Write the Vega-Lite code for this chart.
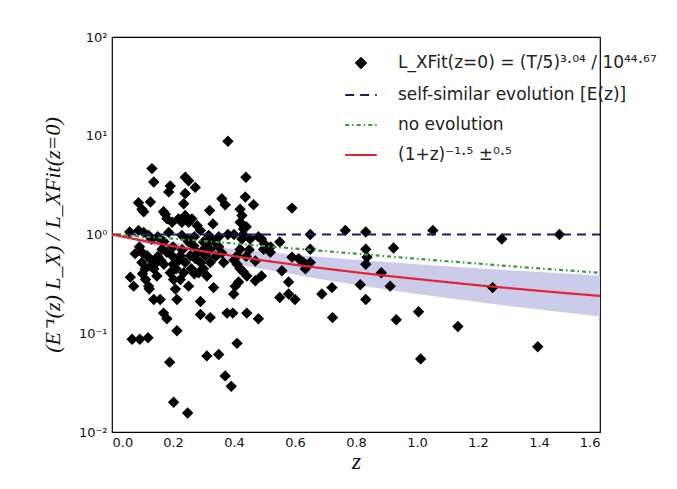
{
  "$schema": "https://vega.github.io/schema/vega-lite/v6.json",
  "width": 488,
  "height": 395,
  "autosize": "none",
  "padding": {"left": 112, "top": 37, "right": 77, "bottom": 57},
  "background": "white",
  "config": {
    "view": {"stroke": "#000000", "strokeWidth": 1.2},
    "font": "DejaVu Sans",
    "axis": {"grid": false, "domain": false, "labelFont": "DejaVu Sans", "labelFontSize": 13, "labelColor": "#111111", "tickColor": "#111111", "tickWidth": 1}
  },
  "datasets": {
    "pts": [
      {"z":0.058,"y":1.06},{"z":0.087,"y":1.1},{"z":0.104,"y":1.05},{"z":0.12,"y":0.98},
      {"z":0.066,"y":0.087},{"z":0.091,"y":0.087},{"z":0.118,"y":0.09},
      {"z":0.06,"y":0.37},{"z":0.071,"y":0.30},{"z":0.076,"y":0.64},
      {"z":0.087,"y":2.1},{"z":0.098,"y":1.8},{"z":0.131,"y":4.65},{"z":0.137,"y":3.4},{"z":0.126,"y":2.13},{"z":0.104,"y":1.7},
      {"z":0.098,"y":0.52},{"z":0.109,"y":0.45},{"z":0.115,"y":0.61},{"z":0.126,"y":0.48},{"z":0.137,"y":0.45},{"z":0.147,"y":0.38},{"z":0.12,"y":0.30},{"z":0.122,"y":0.28},{"z":0.137,"y":0.22},{"z":0.158,"y":0.22},{"z":0.169,"y":0.16},{"z":0.18,"y":0.14},
      {"z":0.186,"y":2.7},{"z":0.191,"y":3.1},{"z":0.169,"y":1.7},{"z":0.18,"y":1.44},{"z":0.197,"y":1.33},{"z":0.175,"y":1.6},{"z":0.186,"y":1.05},{"z":0.164,"y":0.71},{"z":0.18,"y":0.66},{"z":0.197,"y":0.61},{"z":0.191,"y":0.41},{"z":0.202,"y":0.35},{"z":0.208,"y":0.28},{"z":0.213,"y":0.22},{"z":0.213,"y":0.106},{"z":0.189,"y":0.051},{"z":0.202,"y":0.020},{"z":0.248,"y":0.0156},
      {"z":0.24,"y":3.8},{"z":0.251,"y":3.5},{"z":0.273,"y":3.0},{"z":0.24,"y":2.6},{"z":0.235,"y":2.05},{"z":0.218,"y":1.44},{"z":0.229,"y":1.33},{"z":0.24,"y":1.56},{"z":0.251,"y":1.33},{"z":0.262,"y":1.44},{"z":0.279,"y":1.23},{"z":0.29,"y":1.1},{"z":0.229,"y":0.98},{"z":0.246,"y":0.9},{"z":0.268,"y":0.77},{"z":0.224,"y":0.61},{"z":0.24,"y":0.52},{"z":0.257,"y":0.61},{"z":0.273,"y":0.57},{"z":0.235,"y":0.41},{"z":0.224,"y":0.35},{"z":0.251,"y":0.30},{"z":0.284,"y":0.41},{"z":0.29,"y":0.52},{"z":0.29,"y":0.21},{"z":0.29,"y":0.155},{"z":0.322,"y":0.144},{"z":0.311,"y":0.059},{"z":0.35,"y":0.061},{"z":0.371,"y":0.037},{"z":0.391,"y":0.029},{"z":0.41,"y":0.079},{"z":0.38,"y":8.8},
      {"z":0.32,"y":1.75},{"z":0.331,"y":1.28},{"z":0.317,"y":0.98},{"z":0.3,"y":0.84},{"z":0.322,"y":0.71},{"z":0.338,"y":0.84},{"z":0.306,"y":0.61},{"z":0.322,"y":0.52},{"z":0.3,"y":0.45},{"z":0.311,"y":0.38},{"z":0.333,"y":0.29},{"z":0.36,"y":2.3},{"z":0.371,"y":2.0},{"z":0.366,"y":0.52},{"z":0.377,"y":0.16},{"z":0.396,"y":0.16},{"z":0.404,"y":0.30},{"z":0.399,"y":0.25},{"z":0.415,"y":0.33},{"z":0.42,"y":0.45},{"z":0.41,"y":0.61},{"z":0.42,"y":0.71},{"z":0.426,"y":0.9},{"z":0.431,"y":1.14},{"z":0.42,"y":1.33},{"z":0.426,"y":1.56},{"z":0.42,"y":1.8},{"z":0.437,"y":2.4},{"z":0.439,"y":3.8},{"z":0.464,"y":2.0},{"z":0.442,"y":0.16},{"z":0.48,"y":0.14},{"z":0.442,"y":0.38},{"z":0.47,"y":0.54},{"z":0.453,"y":0.9},{"z":0.49,"y":0.9},{"z":0.497,"y":0.71},{"z":0.519,"y":0.66},{"z":0.47,"y":0.34},{"z":0.49,"y":0.38},
      {"z":0.55,"y":0.84},{"z":0.557,"y":0.43},{"z":0.579,"y":0.33},{"z":0.59,"y":1.85},{"z":0.59,"y":0.59},{"z":0.612,"y":0.57},{"z":0.628,"y":0.52},{"z":0.65,"y":0.52},{"z":0.65,"y":0.71},{"z":0.65,"y":1.0},{"z":0.55,"y":0.23},{"z":0.579,"y":0.25},{"z":0.6,"y":0.22},{"z":0.634,"y":0.45},{"z":0.688,"y":0.25},{"z":0.721,"y":0.29},{"z":0.723,"y":0.144},{"z":0.765,"y":1.1},{"z":0.832,"y":1.06},{"z":0.832,"y":0.71},{"z":0.836,"y":0.59},{"z":0.832,"y":0.50},{"z":0.814,"y":0.31},{"z":0.832,"y":0.22},{"z":0.883,"y":0.41},{"z":0.923,"y":0.73},{"z":0.912,"y":0.30},{"z":0.932,"y":0.137},{"z":1.005,"y":0.165},{"z":1.012,"y":0.055},{"z":1.052,"y":1.1},{"z":1.134,"y":0.117},{"z":1.248,"y":0.29},{"z":1.278,"y":0.9},{"z":1.396,"y":0.073},{"z":1.467,"y":1.0},
      {"z":0.1,"y":0.4},{"z":0.11,"y":0.35},{"z":0.13,"y":0.55},{"z":0.14,"y":0.5},{"z":0.15,"y":0.6},{"z":0.16,"y":0.55},{"z":0.17,"y":0.5},{"z":0.2,"y":0.5},{"z":0.21,"y":0.45},{"z":0.22,"y":0.55},{"z":0.23,"y":0.7},{"z":0.26,"y":0.45},{"z":0.27,"y":0.4},{"z":0.28,"y":0.65},{"z":0.3,"y":0.7},{"z":0.31,"y":0.8},{"z":0.34,"y":0.6},{"z":0.35,"y":0.75},{"z":0.36,"y":0.65},{"z":0.4,"y":0.55},{"z":0.41,"y":0.5},{"z":0.43,"y":0.42},{"z":0.44,"y":0.6},{"z":0.45,"y":0.7},{"z":0.2,"y":0.75},{"z":0.25,"y":0.85},{"z":0.27,"y":0.95},{"z":0.32,"y":0.9},{"z":0.35,"y":0.95},{"z":0.38,"y":1.0},{"z":0.4,"y":1.0},{"z":0.13,"y":0.9},{"z":0.15,"y":0.95},{"z":0.17,"y":0.85},{"z":0.09,"y":0.75},{"z":0.1,"y":0.65},{"z":0.43,"y":1.0},{"z":0.44,"y":1.2},{"z":0.5,"y":0.8},{"z":0.52,"y":0.75},{"z":0.48,"y":0.95}
    ],
    "band": [
      {"z":0.0,"lo":1.0,"hi":1.0},{"z":0.1,"lo":0.826,"hi":0.909},{"z":0.2,"lo":0.694,"hi":0.833},{"z":0.3,"lo":0.592,"hi":0.769},{"z":0.4,"lo":0.510,"hi":0.714},{"z":0.5,"lo":0.444,"hi":0.667},{"z":0.6,"lo":0.391,"hi":0.625},{"z":0.7,"lo":0.346,"hi":0.588},{"z":0.8,"lo":0.309,"hi":0.556},{"z":0.9,"lo":0.277,"hi":0.526},{"z":1.0,"lo":0.25,"hi":0.5},{"z":1.1,"lo":0.227,"hi":0.476},{"z":1.2,"lo":0.207,"hi":0.455},{"z":1.3,"lo":0.189,"hi":0.435},{"z":1.4,"lo":0.174,"hi":0.417},{"z":1.5,"lo":0.16,"hi":0.4},{"z":1.6,"lo":0.148,"hi":0.385}
    ],
    "curves": [
      {"s":"L_XFit(z=0) = (T/5)³·⁰⁴ / 10⁴⁴·⁶⁷","z":null,"v":null},
      {"s":"self-similar evolution [E(z)]","z":0.0,"v":1.0},{"s":"self-similar evolution [E(z)]","z":1.6,"v":1.0},
      {"s":"no evolution","z":0.0,"v":1.0},{"s":"no evolution","z":0.1,"v":0.954},{"s":"no evolution","z":0.2,"v":0.906},{"s":"no evolution","z":0.3,"v":0.858},{"s":"no evolution","z":0.4,"v":0.81},{"s":"no evolution","z":0.5,"v":0.764},{"s":"no evolution","z":0.6,"v":0.72},{"s":"no evolution","z":0.7,"v":0.678},{"s":"no evolution","z":0.8,"v":0.639},{"s":"no evolution","z":0.9,"v":0.602},{"s":"no evolution","z":1.0,"v":0.568},{"s":"no evolution","z":1.1,"v":0.536},{"s":"no evolution","z":1.2,"v":0.507},{"s":"no evolution","z":1.3,"v":0.479},{"s":"no evolution","z":1.4,"v":0.454},{"s":"no evolution","z":1.5,"v":0.431},{"s":"no evolution","z":1.6,"v":0.409},
      {"s":"(1+z)⁻¹·⁵ ±⁰·⁵","z":0.0,"v":1.0},{"s":"(1+z)⁻¹·⁵ ±⁰·⁵","z":0.1,"v":0.867},{"s":"(1+z)⁻¹·⁵ ±⁰·⁵","z":0.2,"v":0.761},{"s":"(1+z)⁻¹·⁵ ±⁰·⁵","z":0.3,"v":0.675},{"s":"(1+z)⁻¹·⁵ ±⁰·⁵","z":0.4,"v":0.604},{"s":"(1+z)⁻¹·⁵ ±⁰·⁵","z":0.5,"v":0.544},{"s":"(1+z)⁻¹·⁵ ±⁰·⁵","z":0.6,"v":0.494},{"s":"(1+z)⁻¹·⁵ ±⁰·⁵","z":0.7,"v":0.451},{"s":"(1+z)⁻¹·⁵ ±⁰·⁵","z":0.8,"v":0.414},{"s":"(1+z)⁻¹·⁵ ±⁰·⁵","z":0.9,"v":0.382},{"s":"(1+z)⁻¹·⁵ ±⁰·⁵","z":1.0,"v":0.354},{"s":"(1+z)⁻¹·⁵ ±⁰·⁵","z":1.1,"v":0.329},{"s":"(1+z)⁻¹·⁵ ±⁰·⁵","z":1.2,"v":0.306},{"s":"(1+z)⁻¹·⁵ ±⁰·⁵","z":1.3,"v":0.287},{"s":"(1+z)⁻¹·⁵ ±⁰·⁵","z":1.4,"v":0.269},{"s":"(1+z)⁻¹·⁵ ±⁰·⁵","z":1.5,"v":0.253},{"s":"(1+z)⁻¹·⁵ ±⁰·⁵","z":1.6,"v":0.239}
    ]
  },
  "layer": [
    {
      "data": {"name": "band"},
      "mark": {"type": "area", "color": "#cbcbea", "opacity": 1},
      "encoding": {
        "x": {"field": "z", "type": "quantitative",
          "scale": {"domain": [0, 1.6], "nice": false, "zero": false},
          "axis": {"orient": "bottom", "values": [0, 0.2, 0.4, 0.6, 0.8, 1.0, 1.2, 1.4, 1.6], "format": ".1f", "tickSize": 0, "labelPadding": 4,
            "title": "z", "titleFont": "Liberation Serif", "titleFontStyle": "italic", "titleFontWeight": "normal", "titleFontSize": 24, "titlePadding": 0, "titleColor": "#111111",
            "encode": {"ticks": {"update": {"y2": {"value": -6}}}}}},
        "y": {"field": "lo", "type": "quantitative",
          "scale": {"type": "log", "domain": [0.01, 100], "nice": false},
          "axis": {"orient": "left",
            "values": [0.01,0.02,0.03,0.04,0.05,0.06,0.07,0.08,0.09,0.1,0.2,0.3,0.4,0.5,0.6,0.7,0.8,0.9,1,2,3,4,5,6,7,8,9,10,20,30,40,50,60,70,80,90,100],
            "labelExpr": "datum.value === 0.01 ? '10⁻²' : datum.value === 0.1 ? '10⁻¹' : datum.value === 1 ? '10⁰' : datum.value === 10 ? '10¹' : datum.value === 100 ? '10²' : ''",
            "tickSize": 0, "labelPadding": 5,
            "title": "(E⁻¹(z) L_X) / L_XFit(z=0)", "titleFont": "Liberation Serif", "titleFontStyle": "italic", "titleFontWeight": "normal", "titleFontSize": 22, "titlePadding": 14, "titleColor": "#111111",
            "encode": {"ticks": {"update": {"x2": {"signal": "indexOf([0.01,0.1,1,10,100], datum.value) >= 0 ? 7 : 3.5"}}}}}},
        "y2": {"field": "hi"}
      }
    },
    {
      "data": {"name": "pts"},
      "mark": {"type": "point", "shape": "diamond", "filled": true, "size": 130, "opacity": 1, "color": "#000000"},
      "encoding": {
        "x": {"field": "z", "type": "quantitative",
          "scale": {"domain": [0, 1.6], "nice": false, "zero": false},
          "axis": {"orient": "top", "values": [0, 0.2, 0.4, 0.6, 0.8, 1.0, 1.2, 1.4, 1.6], "labels": false, "title": null, "tickSize": 0,
            "encode": {"ticks": {"update": {"y2": {"value": 6}}}}}},
        "y": {"field": "y", "type": "quantitative",
          "scale": {"type": "log", "domain": [0.01, 100], "nice": false},
          "axis": {"orient": "right",
            "values": [0.01,0.02,0.03,0.04,0.05,0.06,0.07,0.08,0.09,0.1,0.2,0.3,0.4,0.5,0.6,0.7,0.8,0.9,1,2,3,4,5,6,7,8,9,10,20,30,40,50,60,70,80,90,100],
            "labels": false, "title": null, "tickSize": 0,
            "encode": {"ticks": {"update": {"x2": {"signal": "indexOf([0.01,0.1,1,10,100], datum.value) >= 0 ? -7 : -3.5"}}}}}}
      }
    },
    {
      "data": {"name": "curves"},
      "mark": {"type": "line", "strokeWidth": 2.2, "clip": true},
      "encoding": {
        "x": {"field": "z", "type": "quantitative", "scale": {"domain": [0, 1.6], "nice": false, "zero": false}, "axis": null},
        "y": {"field": "v", "type": "quantitative", "scale": {"type": "log", "domain": [0.01, 100], "nice": false}, "axis": null},
        "color": {"field": "s", "type": "nominal",
          "scale": {"domain": ["L_XFit(z=0) = (T/5)³·⁰⁴ / 10⁴⁴·⁶⁷", "self-similar evolution [E(z)]", "no evolution", "(1+z)⁻¹·⁵ ±⁰·⁵"],
                    "range": ["#000000", "#1c1c5e", "#3a9a3a", "#e3232f"]},
          "legend": {"title": null, "orient": "none", "legendX": 232, "legendY": 9,
            "labelFont": "DejaVu Sans", "labelFontSize": 17, "labelColor": "#222222", "labelOffset": 20, "labelLimit": 400,
            "symbolSize": 900, "rowPadding": 5, "padding": 0,
            "encode": {"symbols": {"update": {
              "shape": {"signal": "datum.index === 0 ? 'diamond' : 'stroke'"},
              "size": {"signal": "datum.index === 0 ? 90 : 1000"},
              "fill": {"signal": "datum.index === 0 ? '#000000' : 'transparent'"},
              "stroke": {"signal": "datum.index === 0 ? 'transparent' : scale('color', datum.value)"},
              "strokeWidth": {"value": 2.2},
              "strokeDash": {"signal": "datum.index === 1 ? [8,5] : datum.index === 2 ? [2,5] : []"},
              "opacity": {"value": 1}
            }}}}},
        "strokeDash": {"field": "s", "type": "nominal",
          "scale": {"domain": ["L_XFit(z=0) = (T/5)³·⁰⁴ / 10⁴⁴·⁶⁷", "self-similar evolution [E(z)]", "no evolution", "(1+z)⁻¹·⁵ ±⁰·⁵"], "range": [[1, 0], [9, 6], [4, 3, 1.5, 3], [1, 0]]},
          "legend": null}
      }
    }
  ],
  "resolve": {"axis": {"x": "independent", "y": "independent"}}
}
